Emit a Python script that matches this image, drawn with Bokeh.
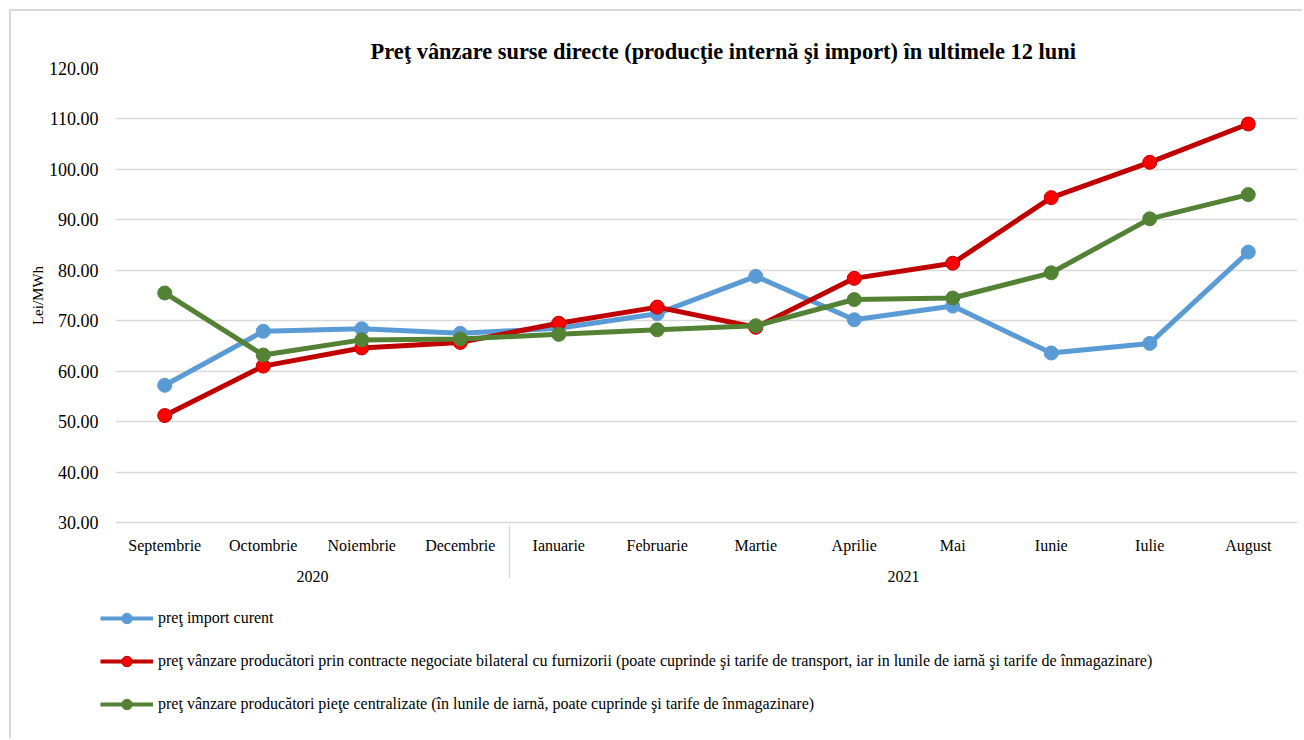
from bokeh.plotting import figure
from bokeh.layouts import column
from bokeh.models import (FactorRange, Range1d, FixedTicker, NumeralTickFormatter,
                          Legend, LegendItem)
from bokeh.embed import file_html
from bokeh.resources import INLINE

years = ["2020"] * 4 + ["2021"] * 8
months = ["Septembrie", "Octombrie", "Noiembrie", "Decembrie", "Ianuarie", "Februarie",
          "Martie", "Aprilie", "Mai", "Iunie", "Iulie", "August"]
import_price = [57.2, 67.9, 68.4, 67.5, 68.5, 71.4, 78.8, 70.2, 72.9, 63.6, 65.5, 83.6]
bilateral_price = [51.2, 61.0, 64.6, 65.7, 69.5, 72.7, 68.7, 78.4, 81.4, 94.4, 101.4, 109.0]
centralized_price = [75.5, 63.2, 66.2, 66.4, 67.3, 68.2, 69.0, 74.2, 74.5, 79.5, 90.2, 95.0]
y_ticks = [30, 40, 50, 60, 70, 80, 90, 100, 110, 120]

series_labels = [
    "preţ import curent",
    "preţ vânzare producători prin contracte negociate bilateral cu furnizorii (poate cuprinde şi tarife de transport, iar in lunile de iarnă şi tarife de înmagazinare)",
    "preţ vânzare producători pieţe centralizate (în lunile de iarnă, poate cuprinde şi tarife de înmagazinare)",
]
title_text = "Preţ vânzare surse directe (producţie internă şi import) în ultimele 12 luni"

FONT = "Liberation Serif"
GRID = "#d9d9d9"
factors = list(zip(years, months))

p = figure(
    x_range=FactorRange(*factors, factor_padding=0, group_padding=0, range_padding=0),
    y_range=Range1d(30, 120),
    width=1291, height=589,
    min_border_left=104, min_border_right=5, min_border_top=57, min_border_bottom=78,
    output_backend="svg", toolbar_location=None, title=title_text,
)
p.outline_line_color = None
p.title.text_font = FONT
p.title.text_font_size = "22.4px"
p.title.text_font_style = "bold"
p.title.text_color = "black"
p.title.align = "left"
p.title.offset = 255

p.xgrid.grid_line_color = None
p.ygrid.grid_line_color = GRID
p.ygrid.grid_line_width = 1.3

p.yaxis.ticker = FixedTicker(ticks=y_ticks)
p.yaxis.formatter = NumeralTickFormatter(format="0.00")
p.yaxis.axis_line_color = None
p.yaxis.major_tick_line_color = None
p.yaxis.minor_tick_line_color = None
p.yaxis.major_label_text_font = FONT
p.yaxis.major_label_text_font_size = "18px"
p.yaxis.major_label_text_color = "black"
p.yaxis.major_label_standoff = 11
p.yaxis.axis_label = "Lei/MWh"
p.yaxis.axis_label_text_font = FONT
p.yaxis.axis_label_text_font_style = "normal"
p.yaxis.axis_label_text_font_size = "15px"
p.yaxis.axis_label_text_color = "black"
p.yaxis.axis_label_standoff = 0

xa = p.xaxis[0]
xa.axis_line_color = GRID
xa.axis_line_width = 1.3
xa.major_tick_line_color = None
xa.major_tick_out = 0
xa.major_label_text_font = FONT
xa.major_label_text_font_size = "16px"
xa.major_label_text_color = "black"
xa.major_label_standoff = 14
xa.group_text_font = FONT
xa.group_text_font_size = "16px"
xa.group_text_color = "black"
xa.group_text_font_style = "normal"
xa.separator_line_color = GRID
xa.separator_line_width = 1.3

styles = [
    (import_price, "#5b9bd5", "#5b9bd5", "#5b9bd5"),
    (bilateral_price, "#c00000", "#ff0000", "#c00000"),
    (centralized_price, "#548235", "#548235", "#548235"),
]
for vals, lc, fc, mc in styles:
    p.line(factors, vals, line_color=lc, line_width=5)
    p.scatter(factors, vals, size=14, fill_color=fc, line_color=mc, line_width=1)

# legend panel below the chart (its own ranges keep the series out of view;
# only the legend swatches are seen)
p2 = figure(width=1291, height=138, x_range=Range1d(0, 1), y_range=Range1d(0, 1),
            x_axis_type=None, y_axis_type=None, min_border=0,
            output_backend="svg", toolbar_location=None)
p2.frame_align = False
p2.outline_line_color = None
p2.xgrid.visible = False
p2.ygrid.visible = False
items = []
idx = list(range(len(months)))
for (vals, lc, fc, mc), lab in zip(styles, series_labels):
    l1 = p2.line(idx, vals, line_color=lc, line_width=4)
    l2 = p2.scatter(idx, vals, size=10, fill_color=fc, line_color=mc, line_width=1)
    items.append(LegendItem(label=lab, renderers=[l1, l2]))

legend = Legend(items=items, location=(89, 21), orientation="vertical", spacing=17,
                glyph_width=53, glyph_height=26, label_standoff=5, label_height=26,
                label_text_font=FONT, label_text_font_size="16px", label_text_color="black",
                border_line_color=None, background_fill_alpha=0, padding=0, margin=0)
p2.add_layout(legend)

layout = column(p, p2, spacing=0, margin=(9, 0, 0, 9),
                styles={"border-left": "2px solid #d9d9d9", "border-top": "2px solid #d9d9d9"})

open("out.html", "w").write(file_html(layout, INLINE))
